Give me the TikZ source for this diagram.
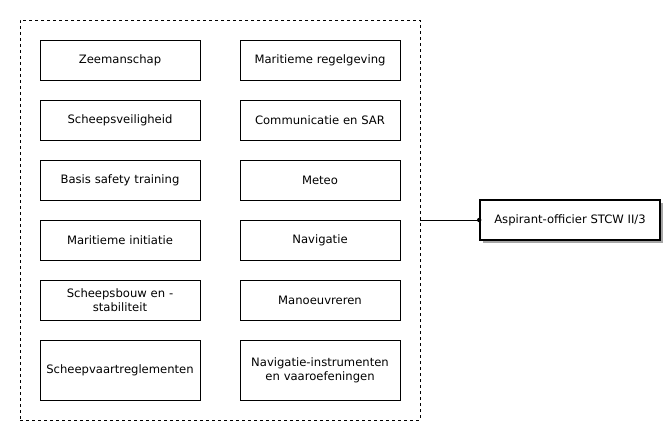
\documentclass[tikz,border=0pt]{standalone}
\usepackage{fontspec}
\setmainfont{DejaVu Sans}
\usetikzlibrary{shadows}
\begin{document}
\begin{tikzpicture}[x=1pt,y=-1pt,
  every node/.style={font=\fontsize{11.6}{14}\selectfont},
  course/.style={draw=black, line width=0.8pt, minimum width=160pt, minimum height=40pt, align=center, inner sep=2pt, text width=156pt},
  tall/.style={course, minimum height=60pt},
  group/.style={draw=black, line width=0.8pt, dash pattern=on 3pt off 3pt, minimum width=400pt, minimum height=400pt, inner sep=0pt},
  goal/.style={draw=black, line width=1.6pt, fill=white, minimum width=180pt, minimum height=40pt, align=center, inner sep=2pt,
    drop shadow={shadow xshift=2.5pt, shadow yshift=-2.5pt, fill=gray!70, opacity=1}},
  link/.style={draw=black, line width=0.8pt}
]
\useasboundingbox (0,0) rectangle (668,425);
\node[group] (grp) at (220,220) {};
\node[course] (z1) at (120,60) {Zeemanschap};
\node[course] (z2) at (120,120) {Scheepsveiligheid};
\node[course] (z3) at (120,180) {Basis safety training};
\node[course] (z4) at (120,240) {Maritieme initiatie};
\node[course] (z5) at (120,300) {Scheepsbouw en -\\stabiliteit};
\node[tall] (z6) at (120,370) {Scheepvaartreglementen};
\node[course] (r1) at (320,60) {Maritieme regelgeving};
\node[course] (r2) at (320,120) {Communicatie en SAR};
\node[course] (r3) at (320,180) {Meteo};
\node[course] (r4) at (320,240) {Navigatie};
\node[course] (r5) at (320,300) {Manoeuvreren};
\node[tall] (r6) at (320,370) {Navigatie-instrumenten\\en vaaroefeningen};
\node[goal] (goal) at (570,220) {Aspirant-officier STCW II/3};
\draw[link] (grp.east) -- (goal.west);
\fill (goal.west) circle (2.2pt);
\end{tikzpicture}
\end{document}
